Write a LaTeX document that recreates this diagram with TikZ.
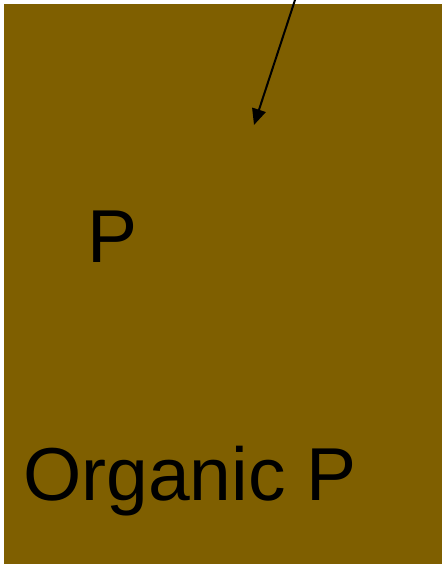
\documentclass[tikz,border=0pt]{standalone}
\usepackage{fontspec}
\setmainfont{Liberation Sans}
\usetikzlibrary{positioning, arrows.meta}
\definecolor{soilBrown}{HTML}{7F5F00}

\begin{document}
\begin{tikzpicture}[
  x=1pt, y=-1pt,
  every node/.style={font=\fontsize{75}{90}\selectfont, inner sep=0pt},
  soil/.style={
    fill=soilBrown,
    draw=none
  },
  label/.style={anchor=base west, text=black},
  link/.style={draw, -{Triangle[length=16pt, width=14pt]}, line width=2pt}
]

\useasboundingbox (0,0) rectangle (446,567);

\fill[soil] (4,4) rectangle (442,564);

\node[label] (pin) at (87,262) {P};
\node[label] (porg) at (23,500) {Organic P};

\coordinate (src) at (295,0);
\coordinate (dst) at (254,125);
\draw[link] (src) -- (dst);

\end{tikzpicture}
\end{document}
